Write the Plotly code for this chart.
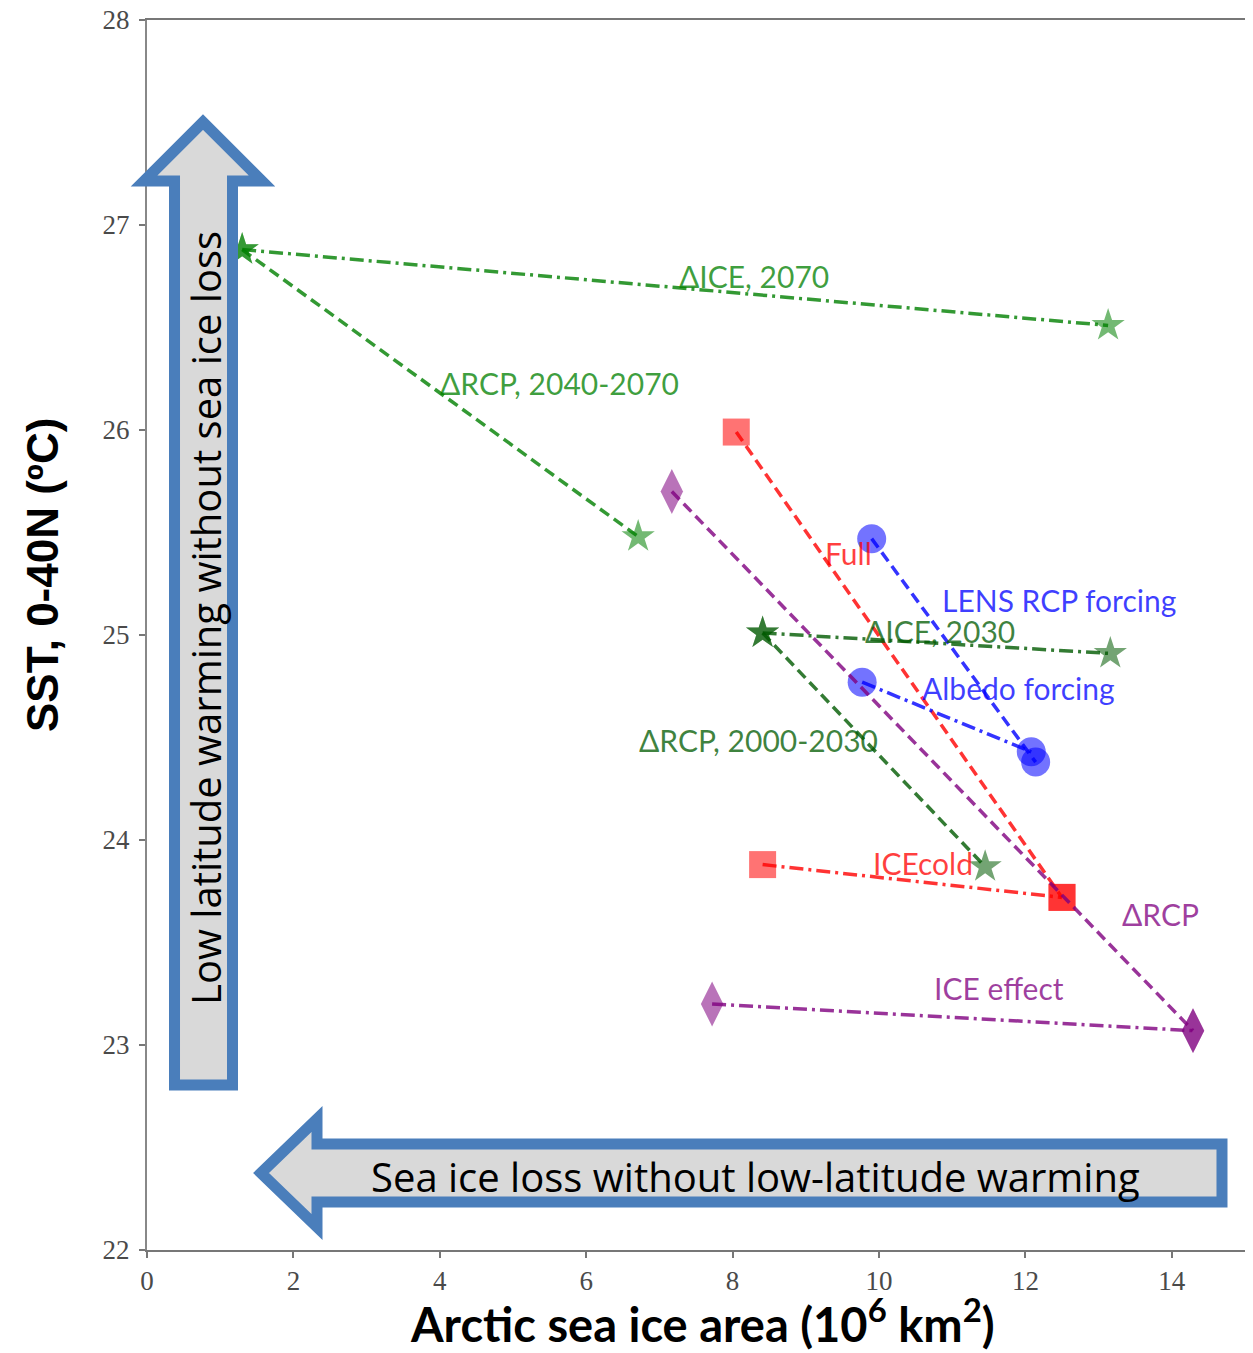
import plotly.graph_objects as go

# ---------------- data ----------------
ice2070_x = [1.30, 13.13]
ice2070_y = [26.88, 26.51]
rcp4070_x = [1.30, 6.71]
rcp4070_y = [26.88, 25.48]
ice2030_x = [8.41, 13.16]
ice2030_y = [25.01, 24.91]
rcp0030_x = [8.41, 11.45]
rcp0030_y = [25.01, 23.87]
full_x = [8.05, 12.50]
full_y = [25.99, 23.72]
icecold_x = [8.41, 12.50]
icecold_y = [23.88, 23.72]
lens_x = [9.90, 12.14]
lens_y = [25.47, 24.38]
albedo_x = [9.77, 12.08]
albedo_y = [24.77, 24.43]
drcp_x = [7.17, 14.29]
drcp_y = [25.70, 23.07]
iceeff_x = [7.72, 14.29]
iceeff_y = [23.20, 23.07]

x_ticks = [0, 2, 4, 6, 8, 10, 12, 14]
y_ticks = [22, 23, 24, 25, 26, 27, 28]

labels = ["\u0394ICE, 2070", "\u0394RCP, 2040-2070", "Full", "LENS RCP forcing",
          "\u0394ICE, 2030", "Albedo forcing", "\u0394RCP, 2000-2030", "ICEcold",
          "\u0394RCP", "ICE effect"]

# ---------------- styles ----------------
GREEN = "rgba(0,128,0,{a})"
DGREEN = "rgba(0,90,0,{a})"
RED = "rgba(255,0,0,{a})"
BLUE = "rgba(0,0,255,{a})"
PURPLE = "rgba(128,0,128,{a})"

series = [
    (ice2070_x, ice2070_y, GREEN, "dashdot", "star", 25),
    (rcp4070_x, rcp4070_y, GREEN, "dash", "star", 25),
    (ice2030_x, ice2030_y, DGREEN, "dashdot", "star", 25),
    (rcp0030_x, rcp0030_y, DGREEN, "dash", "star", 25),
    (full_x, full_y, RED, "dash", "square", 27),
    (icecold_x, icecold_y, RED, "dashdot", "square", 27),
    (lens_x, lens_y, BLUE, "dash", "circle", 29),
    (albedo_x, albedo_y, BLUE, "dashdot", "circle", 29),
    (drcp_x, drcp_y, PURPLE, "dash", "diamond-tall", 32),
    (iceeff_x, iceeff_y, PURPLE, "dashdot", "diamond-tall", 32),
]
dash_map = {"dash": "11px,6px", "dashdot": "14px,5px,3px,5px"}

fig = go.Figure()
for xs, ys, col, dash, sym, size in series:
    fig.add_trace(go.Scatter(
        x=xs, y=ys, mode="lines+markers",
        line=dict(color=col.format(a=0.8), width=3.5, dash=dash_map[dash]),
        marker=dict(symbol=sym, size=size, color=col.format(a=0.55), line=dict(width=0)),
        showlegend=False, hoverinfo="skip"))

# label positions (data coordinates) and colours
label_pos = [(8.29, 26.75, GREEN), (5.63, 26.23, GREEN), (9.58, 25.40, RED),
             (12.46, 25.17, BLUE), (10.83, 25.02, DGREEN), (11.91, 24.74, BLUE),
             (8.36, 24.49, DGREEN), (10.60, 23.89, RED), (13.84, 23.64, PURPLE),
             (11.64, 23.28, PURPLE)]
for txt, (lx, ly, col) in zip(labels, label_pos):
    fig.add_annotation(x=lx, y=ly, xref="x", yref="y", text=txt, showarrow=False,
                       font=dict(family="Lato", size=30, color=col.format(a=0.75)),
                       xanchor="center", yanchor="middle")

# ---------------- layout geometry ----------------
# the page body has an 8px margin, so the figure starts at page (8, 8)
W, H = 1245, 1345
PL, PT, PR, PB = 147, 20, 1245, 1250        # plot area in page pixels
OFF = 8
L, T = PL - OFF, PT - OFF
R, B = W - (PR - OFF), H - (PB - OFF)
PW, PH = PR - PL, PB - PT


def px2paper(px, py):
    return (px - PL) / PW, (PB - py) / PH


def path(points):
    s = ""
    for i, (px, py) in enumerate(points):
        xp, yp = px2paper(px, py)
        s += ("M" if i == 0 else "L") + f"{xp:.5f},{yp:.5f} "
    return s + "Z"


ARROW_LINE = "#4a7ebb"
ARROW_FILL = "#d9d9d9"
vert = [(174.5, 1085), (232.5, 1085), (232.5, 181), (262, 181), (203, 122),
        (144, 181), (174.5, 181)]
horiz = [(1222, 1144), (1222, 1202), (317, 1202), (317, 1227), (261, 1173),
         (317, 1119), (317, 1144)]
for pts in (vert, horiz):
    fig.add_shape(type="path", path=path(pts), xref="paper", yref="paper",
                  line=dict(color=ARROW_LINE, width=11), fillcolor=ARROW_FILL,
                  layer="above")


def paper_text(px, py, text, font, angle=0):
    xp, yp = px2paper(px, py)
    fig.add_annotation(x=xp, y=yp, xref="paper", yref="paper", text=text,
                       textangle=angle, showarrow=False, font=font,
                       xanchor="center", yanchor="middle")


paper_text(205, 618, "Low latitude warming without sea ice loss",
           dict(family="Open Sans", size=40, color="black"), -90)
paper_text(755, 1176, "Sea ice loss without low-latitude warming",
           dict(family="Open Sans", size=40, color="black"))
paper_text(42, 575, "<b>SST, 0-40N (\u00baC)</b>",
           dict(family="Liberation Sans", size=44, color="black"), -90)
paper_text(702, 1321, "<b>Arctic sea ice area (10<sup>6</sup> km<sup>2</sup>)</b>",
           dict(family="Lato", size=47, color="black"))

tickfont = dict(family="Liberation Serif", size=27, color="#4a4a4a")
fig.update_xaxes(range=[0, 15], tickvals=x_ticks, ticktext=[str(v) for v in x_ticks],
                 showgrid=False, zeroline=False, showline=True, mirror=True,
                 linecolor="#777777", linewidth=2, ticks="outside", ticklen=6,
                 tickcolor="#777777", tickwidth=2, tickfont=tickfont, automargin=False,
                 ticklabeloverflow="allow")
fig.update_yaxes(range=[22, 28], tickvals=y_ticks, ticktext=[str(v) for v in y_ticks],
                 showgrid=False, zeroline=False, showline=True, mirror=True,
                 linecolor="#888888", linewidth=2, ticks="outside", ticklen=6,
                 tickcolor="#777777", tickwidth=2, tickfont=tickfont, automargin=False,
                 ticklabelstandoff=4, ticklabeloverflow="allow")
fig.update_layout(width=W, height=H, margin=dict(l=L, r=R, t=T, b=B),
                  plot_bgcolor="white", paper_bgcolor="white")

fig.write_html("out.html")
